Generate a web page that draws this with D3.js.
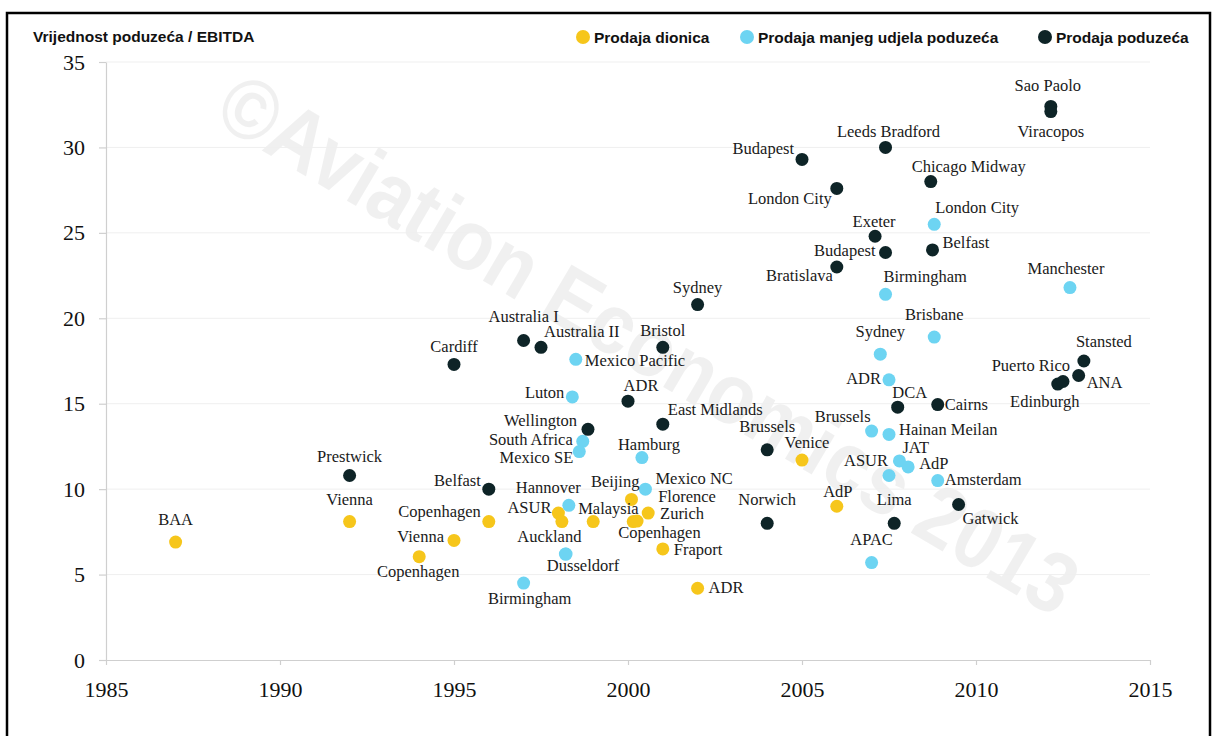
<!DOCTYPE html>
<html>
<head>
<meta charset="utf-8">
<script src="https://cdn.jsdelivr.net/npm/d3@7/dist/d3.min.js"></script>
<style>
  html, body { margin: 0; padding: 0; background: #fff; }
  svg { display: block; }
</style>
</head>
<body>
<svg id="chart" width="1215" height="736"></svg>
<script>
// ---------------- DATA ----------------
const yAxisTitle = "Vrijednost poduzeća / EBITDA";
const categories = ["Prodaja dionica", "Prodaja manjeg udjela poduzeća", "Prodaja poduzeća"];
const xTickValues = [1985, 1990, 1995, 2000, 2005, 2010, 2015];
const yTickValues = [0, 5, 10, 15, 20, 25, 30, 35];
const watermarkText = "©Aviation Economics 2013";

// Prodaja dionica (share sales)
const sharesNames  = ["BAA", "Vienna", "Vienna", "Copenhagen", "Copenhagen", "ASUR", "", "Malaysia", "Beijing", "Copenhagen", "Zurich", "Florence", "Fraport", "ADR", "Venice", "AdP"];
const sharesYears  = [1987.0, 1992.0, 1995.0, 1994.0, 1996.0, 1998.0, 1998.1, 1999.0, 2000.1, 2000.15, 2000.26, 2000.58, 2001.0, 2002.0, 2005.0, 2006.0];
const sharesValues = [6.9, 8.1, 7.0, 6.05, 8.1, 8.6, 8.1, 8.1, 9.4, 8.1, 8.13, 8.6, 6.5, 4.2, 11.7, 9.0];

// Prodaja manjeg udjela poduzeća (minority stake sales)
const minorNames  = ["Birmingham", "Luton", "Mexico Pacific", "South Africa", "Mexico SE", "Hannover", "Auckland", "Dusseldorf", "Hamburg", "Mexico NC", "APAC", "Brussels", "Hainan Meilan", "ASUR", "JAT", "AdP", "Amsterdam", "ADR", "Sydney", "Brisbane", "Birmingham", "London City", "Manchester"];
const minorYears  = [1997.0, 1998.4, 1998.5, 1998.7, 1998.6, 1998.3, 1998.2, 1998.22, 2000.4, 2000.5, 2007.0, 2007.0, 2007.5, 2007.5, 2007.8, 2008.05, 2008.9, 2007.5, 2007.25, 2008.8, 2007.4, 2008.8, 2012.7];
const minorValues = [4.5, 15.4, 17.6, 12.8, 12.2, 9.05, 6.2, 6.2, 11.85, 10.0, 5.7, 13.4, 13.2, 10.8, 11.65, 11.3, 10.5, 16.4, 17.9, 18.9, 21.4, 25.5, 21.8];

// Prodaja poduzeća (full company sales)
const fullNames  = ["Prestwick", "Cardiff", "Belfast", "Australia I", "Australia II", "Wellington", "ADR", "East Midlands", "Bristol", "Sydney", "Brussels", "Norwich", "Budapest", "London City", "Bratislava", "Exeter", "Budapest", "Leeds Bradford", "DCA", "Lima", "Belfast", "Chicago Midway", "Cairns", "Gatwick", "Sao Paolo", "Viracopos", "Edinburgh", "Puerto Rico", "ANA", "Stansted"];
const fullYears  = [1992.0, 1995.0, 1996.0, 1997.0, 1997.5, 1998.85, 2000.0, 2001.0, 2001.0, 2002.0, 2004.0, 2004.0, 2005.0, 2006.0, 2006.0, 2007.1, 2007.4, 2007.4, 2007.75, 2007.65, 2008.75, 2008.7, 2008.9, 2009.5, 2012.15, 2012.15, 2012.35, 2012.5, 2012.95, 2013.1];
const fullValues = [10.8, 17.3, 10.0, 18.7, 18.3, 13.5, 15.15, 13.8, 18.3, 20.8, 12.3, 8.0, 29.3, 27.6, 23.0, 24.8, 23.85, 30.0, 14.8, 8.0, 24.0, 28.0, 14.95, 9.1, 32.4, 32.1, 16.15, 16.3, 16.65, 17.5];

// ---------------- LABEL LAYOUT (dx, dy, anchor) ----------------
const sharesLabelLayout = [[0,-17,"middle"],[0,-17,"middle"],[-10,2,"end"],[-1,20,"middle"],[-8,-5,"end"],[-7,0,"end"],[0,0,"middle"],[-15,-8,"start"],[8,-12,"end"],[-15,16,"start"],[23,-2,"start"],[10,-11,"start"],[11,6,"start"],[11,5,"start"],[5,-12,"middle"],[1,-9,"middle"]];
const minorLabelLayout = [[6,21,"middle"],[-8,1,"end"],[9,7,"start"],[-10,4,"end"],[-6,11,"end"],[12,-12,"end"],[-16,-12,"middle"],[17,17,"middle"],[7,-8,"middle"],[10,-5,"start"],[0,-18,"middle"],[-1,-9,"end"],[10,1,"start"],[-1,-9,"end"],[3,-8,"start"],[11,2,"start"],[7,4,"start"],[-8,4,"end"],[0,-17,"middle"],[0,-17,"middle"],[-2,-12,"start"],[1,-11,"start"],[-4,-14,"middle"]];
const fullLabelLayout = [[0,-13,"middle"],[0,-12,"middle"],[-8,-3,"end"],[0,-18,"middle"],[3,-10,"start"],[-11,-3,"end"],[13,-10,"middle"],[5,-9,"start"],[0,-11,"middle"],[0,-12,"middle"],[0,-18,"middle"],[0,-18,"middle"],[-8,-5,"end"],[-5,16,"end"],[-4,14,"end"],[-1,-9,"middle"],[-10,3,"end"],[3,-10,"middle"],[12,-9,"middle"],[0,-18,"middle"],[10,-2,"start"],[38,-10,"middle"],[7,5,"start"],[4,19,"start"],[-3,-15,"middle"],[0,25,"middle"],[-13,23,"middle"],[7,-11,"end"],[8,12,"start"],[-8,-14,"start"]];

const colors = ["#F6C61B", "#6DD4F2", "#0E2427"];

// ---------------- BUILD ----------------
function build(names, years, values, layout, cat) {
  return names.map((n, i) => ({ name: n, year: years[i], value: values[i], layout: layout[i], cat }));
}
const series = [
  build(sharesNames, sharesYears, sharesValues, sharesLabelLayout, 0),
  build(minorNames, minorYears, minorValues, minorLabelLayout, 1),
  build(fullNames, fullYears, fullValues, fullLabelLayout, 2)
];
const allPoints = series.flat();

const svg = d3.select("#chart");
const W = 1215, H = 736;
const x = d3.scaleLinear().domain([1985, 2015]).range([106, 1150]);
const y = d3.scaleLinear().domain([0, 35]).range([660, 62]);

svg.append("rect").attr("width", W).attr("height", H).attr("fill", "#fff");

// Frame
svg.append("rect")
  .attr("x", 7).attr("y", 13).attr("width", 1203).attr("height", 730)
  .attr("fill", "none").attr("stroke", "#000").attr("stroke-width", 2.5);

// Watermark
svg.append("text")
  .attr("transform", "translate(645,350) rotate(30.5)")
  .attr("text-anchor", "middle")
  .attr("dominant-baseline", "middle")
  .attr("font-family", "'Liberation Sans', Arial, sans-serif")
  .attr("font-weight", "bold")
  .attr("font-size", 86)
  .attr("textLength", 980)
  .attr("lengthAdjust", "spacingAndGlyphs")
  .attr("fill", "#000")
  .attr("fill-opacity", 0.06)
  .text(watermarkText);

// Gridlines
svg.append("g").selectAll("line")
  .data(yTickValues.filter(v => v > 0))
  .join("line")
  .attr("x1", x(1985)).attr("x2", x(2015))
  .attr("y1", d => y(d)).attr("y2", d => y(d))
  .attr("stroke", "#efefef").attr("stroke-width", 1);

// Axes
const serif = "'Liberation Serif', 'Times New Roman', serif";
const yAxis = svg.append("g")
  .attr("transform", `translate(${x(1985)},0)`)
  .call(d3.axisLeft(y).tickValues(yTickValues).tickSize(7).tickSizeOuter(0).tickPadding(14).tickFormat(d3.format("d")));
const xAxis = svg.append("g")
  .attr("transform", `translate(0,${y(0)})`)
  .call(d3.axisBottom(x).tickValues(xTickValues).tickSize(5).tickSizeOuter(0).tickPadding(16).tickFormat(d3.format("d")));
[yAxis, xAxis].forEach(g => {
  g.select(".domain").attr("stroke", "#cfcfcf").attr("stroke-width", 1.2);
  g.selectAll(".tick line").attr("stroke", "#cfcfcf").attr("stroke-width", 1.2);
  g.selectAll(".tick text").attr("font-family", serif).attr("font-size", 22).attr("fill", "#111");
});

// Points
svg.append("g").selectAll("circle")
  .data(allPoints)
  .join("circle")
  .attr("cx", d => x(d.year))
  .attr("cy", d => y(d.value))
  .attr("r", 6.5)
  .attr("fill", d => colors[d.cat]);

// Labels
svg.append("g").selectAll("text")
  .data(allPoints.filter(d => d.name !== ""))
  .join("text")
  .attr("x", d => x(d.year) + d.layout[0])
  .attr("y", d => y(d.value) + d.layout[1])
  .attr("text-anchor", d => d.layout[2])
  .attr("font-family", serif)
  .attr("font-size", 16.5)
  .attr("fill", "#1a1a1a")
  .text(d => d.name);

// Title
svg.append("text")
  .attr("x", 33).attr("y", 42)
  .attr("font-family", "'Liberation Sans', Arial, sans-serif")
  .attr("font-weight", "bold")
  .attr("font-size", 15.5)
  .attr("fill", "#111")
  .text(yAxisTitle);

// Legend
const legendX = [583, 747, 1045];
const legend = svg.append("g").selectAll("g")
  .data(categories)
  .join("g")
  .attr("transform", (d, i) => `translate(${legendX[i]},37)`);
legend.append("circle").attr("r", 7).attr("fill", (d, i) => colors[i]);
legend.append("text")
  .attr("x", 11).attr("y", 5.5)
  .attr("font-family", "'Liberation Sans', Arial, sans-serif")
  .attr("font-weight", "bold")
  .attr("font-size", 15.5)
  .attr("fill", "#111")
  .text(d => d);
</script>
</body>
</html>
